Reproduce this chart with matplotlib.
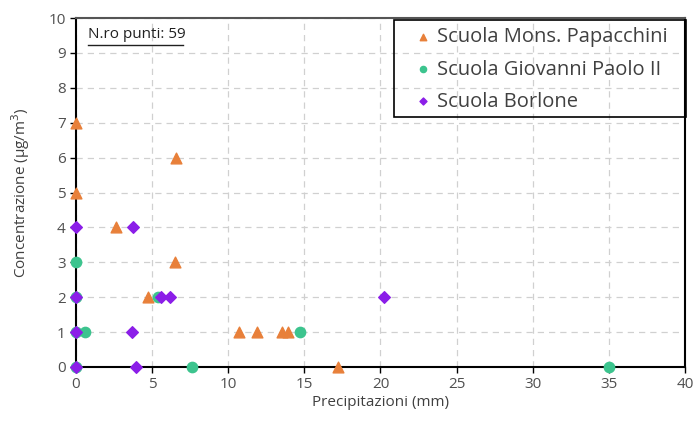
import matplotlib
matplotlib.use("Agg")
from matplotlib import pyplot as plt
from matplotlib.patches import Rectangle

plt.rcParams['font.family'] = ['Open Sans', 'DejaVu Sans']

# Scuola Mons. Papacchini
pap_x = [0, 0, 6.6, 2.6, 6.5, 4.7, 10.7, 11.9, 13.5, 13.9, 17.2]
pap_y = [7, 5, 6, 4, 3, 2, 1, 1, 1, 1, 0]
# Scuola Giovanni Paolo II
gpa_x = [0, 0, 0, 0.6, 0, 5.4, 7.6, 14.7, 35.0]
gpa_y = [3, 2, 1, 1, 0, 2, 0, 1, 0]
# Scuola Borlone
bor_x = [0, 0, 0, 0, 3.75, 3.7, 3.95, 5.6, 6.2, 20.25]
bor_y = [4, 2, 1, 0, 4, 1, 0, 2, 2, 2]

n_punti = 59
xticks = list(range(0, 45, 5))
yticks = list(range(0, 11))

fig = plt.figure(figsize=(6.94, 4.34), dpi=100)
ax = fig.add_axes([0.1095, 0.1544, 0.8775, 0.8041])

ax.scatter(pap_x, pap_y, marker='^', s=60, color='#E8803A', label='Scuola Mons. Papacchini', zorder=3, clip_on=False)
ax.scatter(gpa_x, gpa_y, marker='o', s=55, color='#3CC48E', label='Scuola Giovanni Paolo II', zorder=3, clip_on=False)
ax.scatter(bor_x, bor_y, marker='D', s=35, color='#8B1EE8', label='Scuola Borlone', zorder=4, clip_on=False)

ax.set_xlim(0, 40)
ax.set_ylim(0, 10)
ax.set_xticks(xticks)
ax.set_yticks(yticks)
ax.grid(True, linestyle=(0, (5, 4)), color='#d0d0d0', linewidth=0.9)
ax.set_axisbelow(True)
for s in ['left', 'bottom', 'right']:
    ax.spines[s].set_color('black')
    ax.spines[s].set_linewidth(1.5)
ax.spines['top'].set_color('#555555')
ax.spines['top'].set_linewidth(1.5)
ax.tick_params(axis='both', labelsize=11, labelcolor='#505050', color='black', length=4, width=1)

ax.set_xlabel('Precipitazioni (mm)', fontsize=11, color='#404040', labelpad=2)
ax.set_ylabel('Concentrazione (µg/m$^3$)', fontsize=11, color='#404040', labelpad=12)

# N.ro punti, underlined
ax.text(0.02, 0.975, 'N.ro punti: ' + str(n_punti), transform=ax.transAxes, fontsize=11,
        color='#202020', va='top', ha='left')
ax.plot([0.02, 0.176], [0.923, 0.923], transform=ax.transAxes, color='#202020', linewidth=1, clip_on=False)

# legend with a square black box
leg = ax.legend(loc='upper left', bbox_to_anchor=(0.553, 0.973), fontsize=14.5, frameon=False,
                handlelength=1.0, handletextpad=0.2, markerscale=0.6, borderpad=0,
                labelspacing=0.6, borderaxespad=0)
for t in leg.get_texts():
    t.set_color('#404040')
ax.add_patch(Rectangle((0.522, 0.716), 0.4795, 0.278, transform=ax.transAxes, fill=False,
                       edgecolor='black', linewidth=1.2, clip_on=False, zorder=5))

fig.savefig('out.png', dpi=100)
